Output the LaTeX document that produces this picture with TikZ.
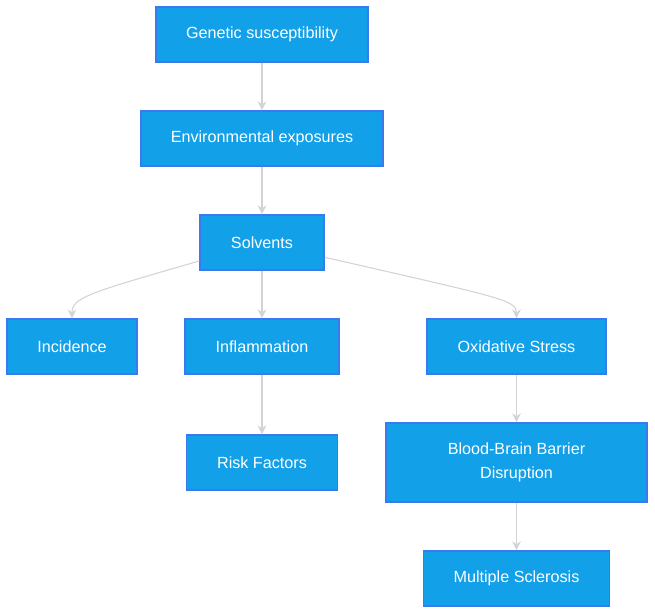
\documentclass[tikz,border=0pt]{standalone}
\usepackage{fontspec}
\setmainfont{Liberation Sans}
\usetikzlibrary{arrows.meta}
\definecolor{boxfill}{RGB}{18,160,232}
\definecolor{boxline}{RGB}{58,122,238}
\definecolor{edgegrey}{RGB}{211,211,211}
\tikzset{
	box/.style={draw=boxline, fill=boxfill, line width=0.9pt, text=white, align=center,
		minimum height=1.1cm, font=\fontsize{9.2}{13.5}\selectfont},
	flow/.style={draw=edgegrey, line width=0.6pt, -{Stealth[length=5pt,width=5pt]}}
}
\begin{document}
\begin{tikzpicture}
	\useasboundingbox (0,0) rectangle (13.1,-12.28);
	
	\node[box, minimum width=4.24cm] (gen) at (5.24,-0.69) {Genetic susceptibility};
	\node[box, minimum width=4.84cm] (env) at (5.24,-2.77) {Environmental exposures};
	\node[box, minimum width=2.48cm] (sol) at (5.24,-4.85) {Solvents};
	
	\node[box, minimum width=2.6cm] (inc) at (1.44,-6.93) {Incidence};
	\node[box, minimum width=3.08cm] (infl) at (5.24,-6.93) {Inflammation};
	\node[box, minimum width=3.58cm] (oxs) at (10.33,-6.93) {Oxidative Stress};
	
	\node[box, minimum width=3.02cm] (risk) at (5.24,-9.25) {Risk Factors};
	\node[box, minimum width=5.22cm, minimum height=1.58cm] (bbb) at (10.33,-9.25) {Blood-Brain Barrier\\Disruption};
	\node[box, minimum width=3.72cm] (ms) at (10.33,-11.57) {Multiple Sclerosis};
	
	\draw[flow] (gen) -- (env);
	\draw[flow] (env) -- (sol);
	\draw[flow] (sol) -- (infl);
	\draw[flow] ([yshift=-0.37cm]sol.west) .. controls (1.8,-5.85) and (1.44,-5.95) .. (inc.north);
	\draw[flow] ([yshift=0.27cm]sol.south east) .. controls (10.0,-5.95) and (10.33,-6.0) .. (oxs.north);
	\draw[flow] (infl) -- (risk);
	\draw[flow] (oxs) -- (bbb);
	\draw[flow] (bbb) -- (ms);
\end{tikzpicture}
\end{document}
